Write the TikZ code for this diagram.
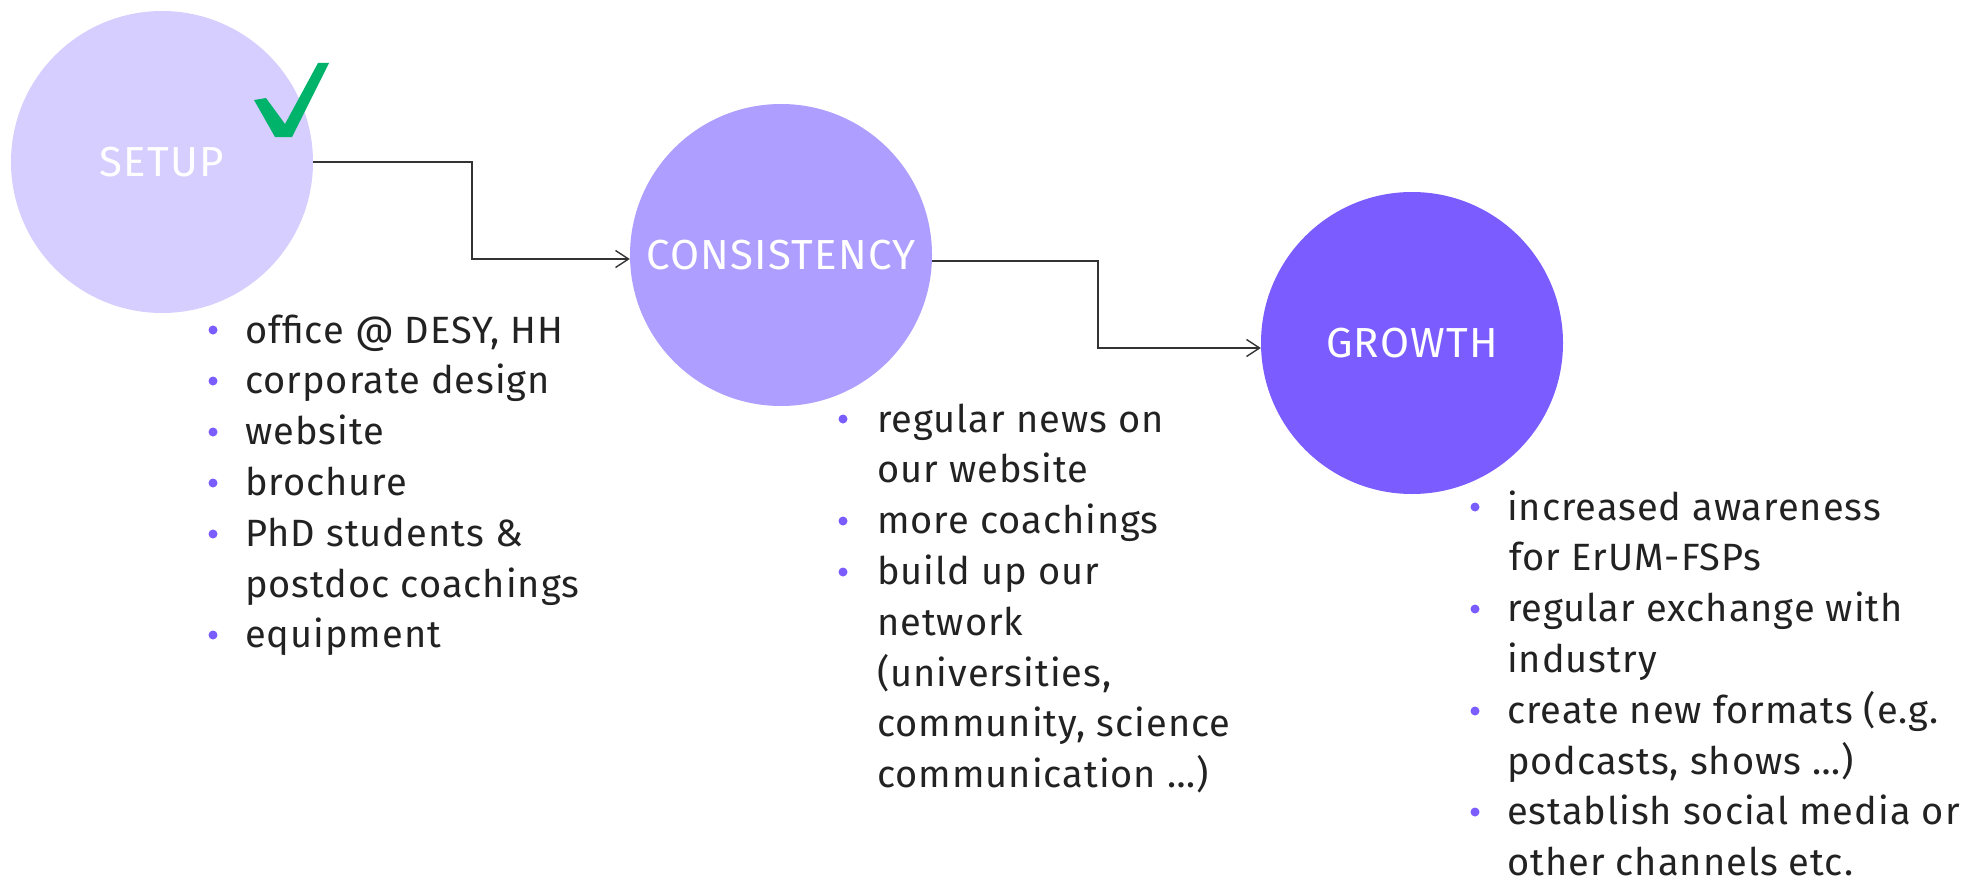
\documentclass[tikz,border=0pt]{standalone}
\usepackage{fontspec}
\setmainfont{Fira Sans}
\newfontfamily\listfont[LetterSpace=2.6]{Fira Sans}
\newfontfamily\labelfont[LetterSpace=3]{Fira Sans}
\usetikzlibrary{arrows.meta}
\definecolor{cSetup}{HTML}{D5CEFF}
\definecolor{cCons}{HTML}{AE9EFF}
\definecolor{cGrow}{HTML}{7A5CFF}
\definecolor{cBul}{HTML}{7A5CFF}
\definecolor{cCheck}{HTML}{00B36B}
\definecolor{cText}{HTML}{222222}
\definecolor{cLine}{HTML}{333333}
\tikzset{
  phase/.style={circle, minimum size=302pt, inner sep=0pt, text=white,
    font=\labelfont\fontsize{42}{50}\selectfont},
  conn/.style={draw=cLine, line width=1.4pt, -{Straight Barb[length=13pt,width=17pt,line width=1.4pt]}},
  itemlist/.style={anchor=base west, inner sep=0pt, text=cText},
  bul/.style={fill=cBul},
}
\newcommand{\listbox}[2]{\parbox[t]{#1}{\raggedright\listfont\fontsize{38}{50.8}\selectfont #2}}
\begin{document}
\begin{tikzpicture}[x=1pt,y=-1pt]
\useasboundingbox (0,0) rectangle (1967,883);
% circles
\node[phase, fill=cSetup] (setup) at (162,162) {SETUP};
\node[phase, fill=cCons] (cons) at (781,255) {CONSISTENCY};
\node[phase, fill=cGrow] (grow) at (1412,343) {GROWTH};
% checkmark
\fill[cCheck] (254,100) -- (266,98) -- (285,124) -- (318,63) -- (329,63) -- (292,137) -- (275,137) -- cycle;
% connectors
\draw[conn] (setup.east) -- (472,162) |- ([yshift=-4pt]cons.west);
\draw[conn] ([yshift=-6pt]cons.east) -- (1098,261) |- ([yshift=-5pt]grow.west);
% lists
\node[itemlist] (l1) at (245,343) {\listbox{460pt}{office @ DESY, HH\\corporate design\\website\\brochure\\PhD students \&\\postdoc coachings\\equipment}};
\foreach \yy in {330,381,432,483,534,635} \fill[bul] (213,\yy) circle (4.5);
\node[itemlist] (l2) at (877,432) {\listbox{460pt}{regular news on\\our website\\more coachings\\build up our\\network\\(universities,\\community, science\\communication …)}};
\foreach \yy in {419,521,572} \fill[bul] (843,\yy) circle (4.5);
\node[itemlist] (l3) at (1507,520) {\listbox{470pt}{increased awareness\\\hspace*{2pt}for ErUM-FSPs\\regular exchange with\\industry\\create new formats (e.g.\\podcasts, shows …)\\establish social media or\\other channels etc.}};
\foreach \yy in {507,609,711,812} \fill[bul] (1475,\yy) circle (4.5);
\end{tikzpicture}
\end{document}
